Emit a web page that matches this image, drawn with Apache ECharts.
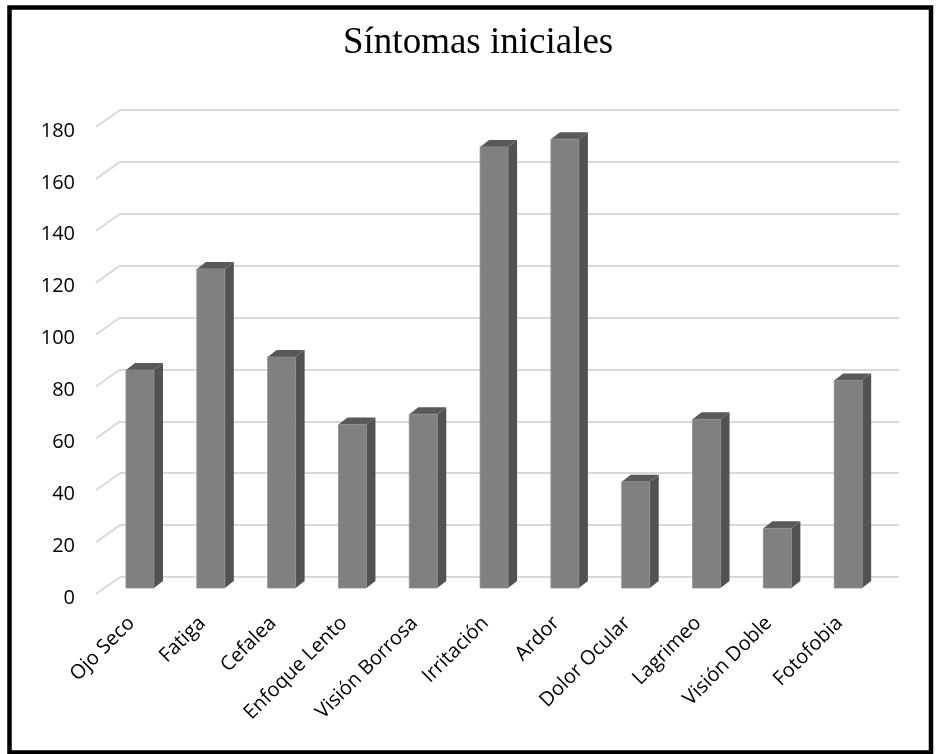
<!DOCTYPE html>
<html>
<head>
<meta charset="utf-8">
<script src="https://cdn.jsdelivr.net/npm/echarts@6/dist/echarts.min.js"></script>
<style>
  html, body { margin: 0; padding: 0; background: #fff; }
  #chart { width: 936px; height: 754px; }
</style>
</head>
<body>
<div id="chart"></div>
<script>
// Symptom counts
const categories = ['Ojo Seco', 'Fatiga', 'Cefalea', 'Enfoque Lento', 'Visión Borrosa',
  'Irritación', 'Ardor', 'Dolor Ocular', 'Lagrimeo', 'Visión Doble', 'Fotofobia'];
const values = [84, 123, 89, 63, 67, 170, 173, 41, 65, 23, 80];
const yTicks = [0, 20, 40, 60, 80, 100, 120, 140, 160, 180];

// Oblique projection of the floor depth (front edge -> back wall)
const DEPTH = [24, -17];
const FACE_SHIFT = [8.6, -6];   // bar front face sits a little inside the floor
const BAR_DEPTH = [9, -7];      // visible side / top thickness of each column
const BAR_RATIO = 0.395;

const LABEL_FONT = '"Open Sans", sans-serif';

const chart = echarts.init(document.getElementById('chart'), null, { renderer: 'canvas' });

chart.setOption({
  backgroundColor: '#fff',
  animation: false,
  title: {
    text: 'Síntomas iniciales',
    left: 343,
    top: 25,
    padding: 0,
    textStyle: { fontFamily: '"Liberation Serif", serif', fontSize: 37, fontWeight: 'normal', color: '#000' }
  },
  graphic: [{
    type: 'rect',
    shape: { x: 9.5, y: 7.5, width: 921.5, height: 745 },
    style: { fill: null, stroke: '#000', lineWidth: 4.5 },
    silent: true
  }],
  grid: [
    // back wall
    { left: 120, top: 110, width: 779, height: 467 },
    // front edge of the floor
    { left: 96, top: 127, width: 779, height: 467 },
    // value labels, set slightly below the floor ticks
    { left: 96, top: 131, width: 779, height: 467 }
  ],
  xAxis: [
    { gridIndex: 0, type: 'category', data: categories, show: false },
    {
      gridIndex: 1, type: 'category', data: categories,
      axisLine: { show: false }, axisTick: { show: false },
      axisLabel: {
        interval: 0, rotate: 45, margin: 26,
        fontFamily: LABEL_FONT, fontSize: 20, color: '#000'
      }
    },
    { gridIndex: 2, type: 'category', data: categories, show: false }
  ],
  yAxis: [
    {
      gridIndex: 0, type: 'value', min: 0, max: 180, interval: 20,
      axisLine: { show: false }, axisTick: { show: false }, axisLabel: { show: false },
      splitLine: { lineStyle: { color: '#d9d9d9', width: 2 } }
    },
    {
      gridIndex: 1, type: 'value', min: 0, max: 180, interval: 20,
      axisLine: { show: false }, axisTick: { show: false }, splitLine: { show: false },
      axisLabel: { show: false }
    },
    {
      gridIndex: 2, type: 'value', min: 0, max: 180, interval: 20,
      axisLine: { show: false }, axisTick: { show: false }, splitLine: { show: false },
      axisLabel: { margin: 21, fontFamily: LABEL_FONT, fontSize: 20, color: '#000' }
    }
  ],
  series: [
    {
      // slanted gridline segments across the floor
      type: 'custom',
      xAxisIndex: 1, yAxisIndex: 1,
      silent: true,
      data: yTicks.map(v => [0, v]),
      encode: { x: 0, y: 1 },
      renderItem: function (params, api) {
        const p = api.coord([api.value(0), api.value(1)]);
        const band = api.size([1, 0])[0];
        const x = p[0] - band / 2;
        return {
          type: 'line',
          shape: { x1: x, y1: p[1], x2: x + DEPTH[0], y2: p[1] + DEPTH[1] },
          style: { stroke: '#d9d9d9', lineWidth: 2 }
        };
      },
      z: 1
    },
    {
      // 3D columns
      type: 'custom',
      xAxisIndex: 1, yAxisIndex: 1,
      data: values.map((v, i) => [i, v]),
      encode: { x: 0, y: 1 },
      renderItem: function (params, api) {
        const base = api.coord([api.value(0), 0]);
        const top = api.coord([api.value(0), api.value(1)]);
        const band = api.size([1, 0])[0];
        const w = band * BAR_RATIO;
        const x0 = base[0] - w / 2 + FACE_SHIFT[0];
        const x1 = x0 + w;
        const yb = base[1] + FACE_SHIFT[1];
        const yt = top[1] + FACE_SHIFT[1];
        const dx = BAR_DEPTH[0], dy = BAR_DEPTH[1];
        return {
          type: 'group',
          children: [
            {
              type: 'polygon',
              shape: { points: [[x1, yt], [x1 + dx, yt + dy], [x1 + dx, yb + dy], [x1, yb]] },
              style: { fill: '#525252' }
            },
            {
              type: 'polygon',
              shape: { points: [[x0, yt], [x0 + dx, yt + dy], [x1 + dx, yt + dy], [x1, yt]] },
              style: { fill: '#595959' }
            },
            {
              type: 'rect',
              shape: { x: x0, y: yt, width: w, height: yb - yt },
              style: { fill: '#808080', stroke: '#8c8c8c', lineWidth: 0.8 }
            }
          ]
        };
      },
      z: 2
    }
  ]
});
</script>
</body>
</html>
